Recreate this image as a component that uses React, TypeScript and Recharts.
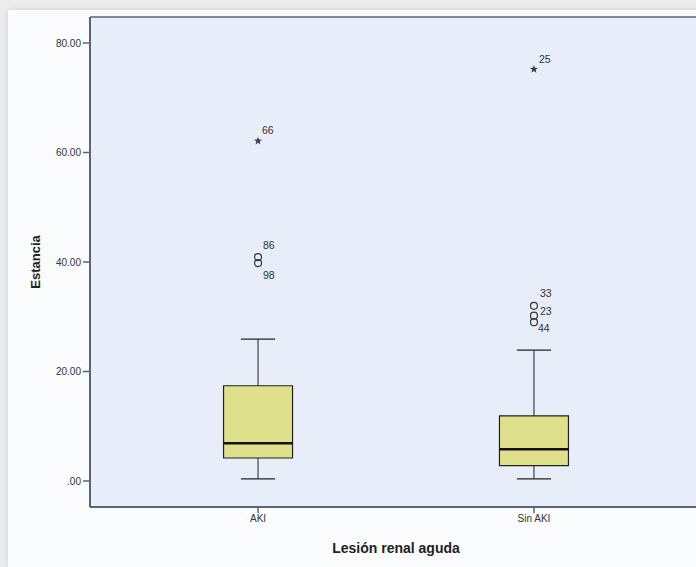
import { ComposedChart, XAxis, YAxis, ReferenceArea, ReferenceLine, Scatter, Label } from 'recharts';

// grouping + five-number summary per group
const groups = ['AKI', 'Sin AKI'];
const lowerWhisker = [0.4, 0.4];
const q1 = [4.2, 2.8];
const median = [6.9, 5.8];
const q3 = [17.4, 11.9];
const upperWhisker = [25.9, 23.9];

// outliers (SPSS case numbers)
const outlierGroup = [0, 0, 0, 1, 1, 1, 1];
const outlierValue = [62.1, 40.9, 39.8, 75.2, 32.0, 30.2, 29.0];
const outlierCase = ['66', '86', '98', '25', '33', '23', '44'];
const outlierExtreme = [true, false, false, true, false, false, false];

const yTicks = [0, 20, 40, 60, 80];

// label placement next to each case marker (styling only)
const LABEL_OFFSET: Record<string, [number, number]> = {
  '66': [4, -7],
  '86': [5, -8],
  '98': [5, 16],
  '25': [5, -6],
  '33': [6, -9],
  '23': [6, -1],
  '44': [4, 10],
};

const X_DOMAIN: [number, number] = [-0.609, 1.609];
const Y_DOMAIN: [number, number] = [-4.75, 84.75];
const BOX_HALF = 0.125;
const CAP_HALF = 0.062;
const FONT = 'Liberation Sans, Arial, sans-serif';
const INK = '#222';

const outliers = outlierValue.map((v, i) => ({
  x: outlierGroup[i],
  y: v,
  id: outlierCase[i],
  extreme: outlierExtreme[i],
}));

function starPoints(cx: number, cy: number, r: number) {
  const pts: string[] = [];
  for (let k = 0; k < 10; k++) {
    const rr = k % 2 === 0 ? r : r * 0.42;
    const a = -Math.PI / 2 + (k * Math.PI) / 5;
    pts.push(`${cx + rr * Math.cos(a)},${cy + rr * Math.sin(a)}`);
  }
  return pts.join(' ');
}

const OutlierShape = (props: any) => {
  const { cx, cy, payload } = props;
  const [dx, dy] = LABEL_OFFSET[payload.id] || [5, 0];
  return (
    <g>
      {payload.extreme ? (
        <polygon points={starPoints(cx, cy, 4.2)} fill="#3a3f48" />
      ) : (
        <circle cx={cx} cy={cy} r={3.5} fill="none" stroke="#333" strokeWidth={1.2} />
      )}
      <text x={cx + dx} y={cy + dy} fontSize={10.5} fill="#333" fontFamily={FONT}>
        {payload.id}
      </text>
    </g>
  );
};

const fmtY = (v: number) => (v === 0 ? '.00' : v.toFixed(2));

export default function App() {
  return (
    <div style={{ position: 'fixed', left: 0, top: 0, width: 696, height: 567, overflow: 'hidden', background: '#ececec' }}>
      <div style={{ position: 'absolute', left: 8, top: 10, width: 720, bottom: 0, background: '#fafcfd', boxShadow: '0 0 6px rgba(0,0,0,0.12)' }} />
      <div style={{ position: 'absolute', left: 0, top: 0, width: 720 }}>
        <ComposedChart width={720} height={567} margin={{ top: 17, right: 18, left: 0, bottom: 10 }}>
          <XAxis
            type="number"
            dataKey="x"
            domain={X_DOMAIN}
            ticks={[0, 1]}
            tickFormatter={(i: number) => groups[i]}
            allowDataOverflow
            height={50}
            tickSize={6}
            tickMargin={2}
            axisLine={{ stroke: '#5b6470', strokeWidth: 2 }}
            tickLine={{ stroke: '#5b6470', strokeWidth: 1.5 }}
            tick={{ fontSize: 10, fill: '#333', fontFamily: FONT }}
          >
            <Label
              value="Lesión renal aguda"
              position="insideBottom"
              offset={4}
              style={{ fontSize: 14, fontWeight: 'bold', fill: '#222', fontFamily: FONT }}
            />
          </XAxis>
          <YAxis
            type="number"
            dataKey="y"
            domain={Y_DOMAIN}
            ticks={yTicks}
            tickFormatter={fmtY}
            allowDataOverflow
            width={90}
            tickSize={7}
            tickMargin={2}
            axisLine={{ stroke: '#5b6470', strokeWidth: 2 }}
            tickLine={{ stroke: '#5b6470', strokeWidth: 1.5 }}
            tick={{ fontSize: 10, fill: '#333', fontFamily: FONT }}
          >
            <Label
              content={(p: any) => {
                const vb = p.viewBox || {};
                const cx = 37;
                const cy = (vb.y || 0) + (vb.height || 0) / 2;
                return (
                  <text
                    x={cx}
                    y={cy}
                    transform={`rotate(-90 ${cx} ${cy})`}
                    textAnchor="middle"
                    dominantBaseline="middle"
                    fontSize={13}
                    fontWeight="bold"
                    fill="#222"
                    fontFamily={FONT}
                  >
                    Estancia
                  </text>
                );
              }}
            />
          </YAxis>

          {/* plot background, top border only (right side runs off the page) */}
          <ReferenceArea
            x1={X_DOMAIN[0]}
            x2={X_DOMAIN[1]}
            y1={Y_DOMAIN[0]}
            y2={Y_DOMAIN[1]}
            fill="#e8eef9"
            fillOpacity={1}
            stroke="none"
            ifOverflow="visible"
          />
          <ReferenceLine y={Y_DOMAIN[1]} stroke="#7d8898" strokeWidth={2} />

          {groups.map((g, i) => (
            <ReferenceLine key={`uw-${g}`} segment={[{ x: i, y: q3[i] }, { x: i, y: upperWhisker[i] }]} stroke={INK} strokeWidth={1} />
          ))}
          {groups.map((g, i) => (
            <ReferenceLine key={`lw-${g}`} segment={[{ x: i, y: lowerWhisker[i] }, { x: i, y: q1[i] }]} stroke={INK} strokeWidth={1} />
          ))}
          {groups.map((g, i) => (
            <ReferenceLine key={`uc-${g}`} segment={[{ x: i - CAP_HALF, y: upperWhisker[i] }, { x: i + CAP_HALF, y: upperWhisker[i] }]} stroke={INK} strokeWidth={1.2} />
          ))}
          {groups.map((g, i) => (
            <ReferenceLine key={`lc-${g}`} segment={[{ x: i - CAP_HALF, y: lowerWhisker[i] }, { x: i + CAP_HALF, y: lowerWhisker[i] }]} stroke={INK} strokeWidth={1.2} />
          ))}
          {groups.map((g, i) => (
            <ReferenceArea
              key={`box-${g}`}
              x1={i - BOX_HALF}
              x2={i + BOX_HALF}
              y1={q1[i]}
              y2={q3[i]}
              fill="#dfe08c"
              fillOpacity={1}
              stroke={INK}
              strokeWidth={1.2}
            />
          ))}
          {groups.map((g, i) => (
            <ReferenceLine key={`med-${g}`} segment={[{ x: i - BOX_HALF, y: median[i] }, { x: i + BOX_HALF, y: median[i] }]} stroke="#111" strokeWidth={2.5} />
          ))}

          <Scatter data={outliers} shape={OutlierShape} isAnimationActive={false} />
        </ComposedChart>
      </div>
    </div>
  );
}
